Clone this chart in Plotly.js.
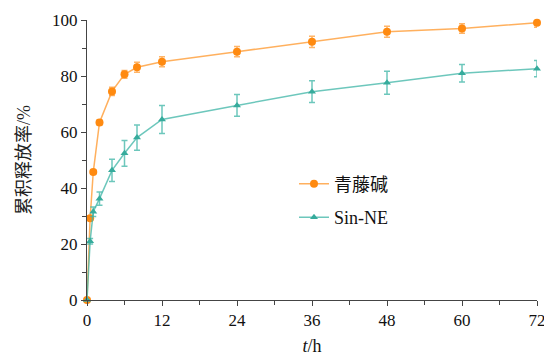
<!DOCTYPE html>
<html>
<head>
<meta charset="utf-8">
<script src="https://cdn.plot.ly/plotly-3.0.1.min.js"></script>
<style>html,body{margin:0;padding:0;background:#fff;}#chart{width:544px;height:356px;}</style>
</head>
<body>
<div id="chart"></div>
<script>
const timeH = [0, 0.5, 1, 2, 4, 6, 8, 12, 24, 36, 48, 60, 72];
const sinValues = [0, 29.2, 45.7, 63.4, 74.5, 80.6, 83.1, 85.1, 88.7, 92.2, 95.8, 97.0, 99.0];
const sinErrors = [0, 0.6, 0.8, 0.9, 1.5, 1.4, 1.8, 1.8, 1.8, 2.0, 2.0, 1.7, 1.6];
const neValues = [0, 21.0, 31.5, 36.2, 46.3, 52.4, 58.0, 64.5, 69.5, 74.4, 77.6, 81.0, 82.6];
const neErrors = [0, 1.0, 1.7, 2.4, 4.0, 4.6, 4.5, 5.0, 3.9, 3.9, 4.1, 3.1, 2.9];
const seriesNames = ['青藤碱', 'Sin-NE'];
const xTicks = [0, 12, 24, 36, 48, 60, 72];
const yTicks = [0, 20, 40, 60, 80, 100];

const serif = 'Liberation Serif, Times New Roman, Noto Sans CJK SC, serif';

const traces = [
  {
    x: timeH, y: sinValues, name: seriesNames[0], type: 'scatter', mode: 'lines+markers',
    legendgroup: 'a',
    line: {color: 'rgba(255,150,40,0.75)', width: 1.5},
    marker: {color: '#FF8A10', size: 8, symbol: 'circle'},
    error_y: {type: 'data', array: sinErrors, visible: true, color: 'rgba(255,150,40,0.7)', thickness: 1.5, width: 3},
    cliponaxis: false
  },
  {
    x: timeH, y: neValues, name: seriesNames[1], type: 'scatter', mode: 'lines+markers',
    legendgroup: 'b',
    line: {color: 'rgba(60,180,165,0.75)', width: 1.5},
    marker: {color: '#36AB9C', size: 7, symbol: 'triangle-up'},
    error_y: {type: 'data', array: neErrors, visible: true, color: 'rgba(60,180,165,0.75)', thickness: 1.5, width: 3},
    cliponaxis: false
  }
];

const axisCommon = {
  showgrid: false, zeroline: false, showline: true, linecolor: '#444', linewidth: 1,
  ticks: 'outside', ticklen: 5, tickcolor: '#444', tickwidth: 1,
  ticklabeloverflow: 'allow',
  tickfont: {family: serif, size: 17, color: '#111'}
};

const layout = {
  width: 544, height: 356,
  margin: {l: 87, r: 7, t: 20, b: 56},
  paper_bgcolor: '#fff', plot_bgcolor: '#fff',
  showlegend: true,
  legend: {x: 0.46, y: 0.48, xanchor: 'left', yanchor: 'top', bgcolor: 'rgba(0,0,0,0)',
           font: {family: serif, size: 18, color: '#111'}, tracegroupgap: 7, itemwidth: 30},
  xaxis: Object.assign({}, axisCommon, {
    range: [0, 72], tickmode: 'array', tickvals: xTicks, ticktext: xTicks.map(String),
    minor: {dtick: 6, tick0: 0, ticks: 'outside', ticklen: 4, tickcolor: '#444'},
    title: {text: '<i>t</i>/h', font: {family: serif, size: 18, color: '#111'}, standoff: 10}
  }),
  yaxis: Object.assign({}, axisCommon, {
    range: [0, 100], tickmode: 'array', tickvals: yTicks, ticktext: yTicks.map(String),
    minor: {dtick: 10, tick0: 0, ticks: 'outside', ticklen: 4, tickcolor: '#444'},
    title: {text: '累积释放率/%', font: {family: serif, size: 18, color: '#222'}, standoff: 16}
  })
};

Plotly.newPlot('chart', traces, layout, {displayModeBar: false, staticPlot: true});
</script>
</body>
</html>
